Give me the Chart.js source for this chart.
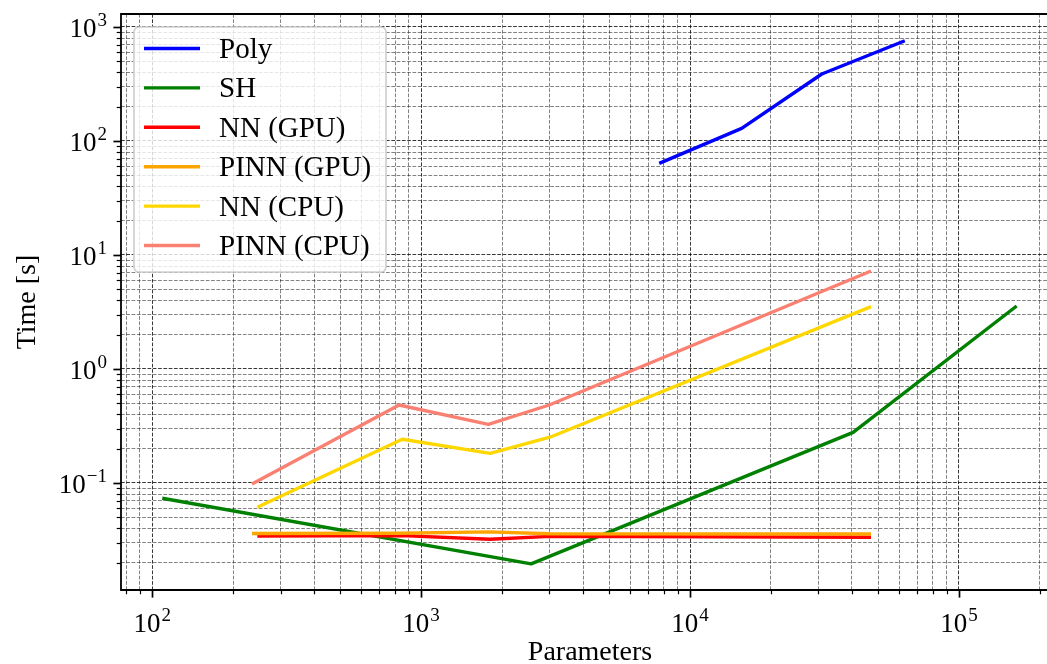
<!DOCTYPE html>
<html>
<head>
<meta charset="utf-8">
<script src="https://cdn.jsdelivr.net/npm/chart.js@4/dist/chart.umd.min.js"></script>
<style>
  html, body { margin: 0; padding: 0; background: #fff; overflow: hidden; width: 1047px; height: 664px; }
  #wrap { position: absolute; left: 0; top: 0; width: 1062px; height: 664px; }
</style>
</head>
<body>
<div id="wrap"><canvas id="c" width="1062" height="664"></canvas></div>
<script>
// Series labels and colours
const seriesNames = ['Poly', 'SH', 'NN (GPU)', 'PINN (GPU)', 'NN (CPU)', 'PINN (CPU)'];
const seriesColors = ['#0000ff', '#008000', '#ff0000', '#ffa500', '#ffd700', '#fa8072'];

// Parameter counts (x) per method
const polyParams = [7680, 15560, 30900, 62900];
const shParams = [109, 2565, 40400, 163900];
const nnParams = [246, 851, 1805, 3014, 47100];
const pinnParams = [235, 828, 1778, 2997, 47100];

// Run times in seconds (y)
const polyTime = [63.7, 129, 387, 758];
const shTime = [0.0734, 0.0195, 0.278, 3.57];
const nnGpuTime = [0.0343, 0.0345, 0.0321, 0.0340, 0.0334];
const pinnGpuTime = [0.0360, 0.0362, 0.0372, 0.0358, 0.0357];
const nnCpuTime = [0.0612, 0.242, 0.182, 0.252, 3.52];
const pinnCpuTime = [0.098, 0.483, 0.327, 0.483, 7.24];

// Decade tick labels (exponents of 10)
const xTickExponents = [2, 3, 4, 5];
const yTickExponents = [-1, 0, 1, 2, 3];

const xLabel = 'Parameters';
const yLabel = 'Time [s]';

const seriesX = [polyParams, shParams, nnParams, pinnParams, nnParams, pinnParams];
const seriesY = [polyTime, shTime, nnGpuTime, pinnGpuTime, nnCpuTime, pinnCpuTime];

const LINE_W = 3.4;

const datasets = seriesNames.map((name, i) => ({
  label: name,
  data: seriesX[i].map((v, j) => ({ x: v, y: seriesY[i][j] })),
  borderColor: seriesColors[i],
  backgroundColor: seriesColors[i],
  borderWidth: LINE_W,
  borderCapStyle: 'butt',
  borderJoinStyle: 'round',
  pointRadius: 0,
  fill: false,
  tension: 0,
  order: seriesNames.length - i   // later series drawn on top
}));

// Axis ranges (log10 limits)
const xLogMin = 1.884, xLogMax = 5.372;
const yLogMin = -1.939, yLogMax = 3.114;

function logTicks(lo, hi) {
  const out = [];
  for (let e = Math.floor(lo); e <= Math.ceil(hi); e++) {
    for (let m = 1; m <= 9; m++) {
      const v = m * Math.pow(10, e);
      const lv = Math.log10(v);
      if (lv >= lo - 1e-9 && lv <= hi + 1e-9) out.push({ value: v, major: m === 1 });
    }
  }
  return out;
}

const SERIF = '"Liberation Serif", "DejaVu Serif", serif';
const gridMajor = 'rgba(0,0,0,0.78)';
const gridMinor = 'rgba(0,0,0,0.62)';

function gridOpts() {
  return {
    display: true,
    drawTicks: false,
    color: c => (c.tick && c.tick.major ? gridMajor : gridMinor),
    lineWidth: c => (c.tick && c.tick.major ? 1.0 : 0.8)
  };
}

const superDigits = e => (e < 0 ? '\u2212' + Math.abs(e) : String(e));

// Spines, tick marks, tick labels, axis titles
const axisDecor = {
  id: 'axisDecor',
  afterDatasetsDraw(chart) {
    const { ctx, chartArea: a, scales: { x, y } } = chart;
    ctx.save();
    ctx.strokeStyle = '#000';
    ctx.lineCap = 'butt';

    // tick marks
    x.ticks.forEach(t => {
      const px = Math.round(x.getPixelForValue(t.value)) + 0.5;
      ctx.lineWidth = t.major ? 1.7 : 1.2;
      ctx.beginPath();
      ctx.moveTo(px, a.bottom);
      ctx.lineTo(px, a.bottom + (t.major ? 7.6 : 4.3));
      ctx.stroke();
    });
    y.ticks.forEach(t => {
      const py = Math.round(y.getPixelForValue(t.value)) + 0.5;
      ctx.lineWidth = t.major ? 1.7 : 1.2;
      ctx.beginPath();
      ctx.moveTo(a.left, py);
      ctx.lineTo(a.left - (t.major ? 7.6 : 4.3), py);
      ctx.stroke();
    });

    // spines
    ctx.lineWidth = 1.8;
    ctx.beginPath();
    ctx.moveTo(a.left, a.top);
    ctx.lineTo(a.right, a.top);
    ctx.lineTo(a.right, a.bottom);
    ctx.lineTo(a.left, a.bottom);
    ctx.closePath();
    ctx.stroke();

    // tick labels: 10 with raised exponent
    ctx.fillStyle = '#000';
    ctx.textBaseline = 'alphabetic';
    const baseFont = '27px ' + SERIF;
    const supFont = '19px ' + SERIF;
    function measure(e) {
      ctx.font = baseFont;
      const w1 = ctx.measureText('10').width;
      ctx.font = supFont;
      const w2 = ctx.measureText(superDigits(e)).width;
      return [w1, w2];
    }
    function drawPow(e, left, baseline) {
      const [w1] = measure(e);
      ctx.font = baseFont;
      ctx.textAlign = 'left';
      ctx.fillText('10', left, baseline);
      ctx.font = supFont;
      ctx.fillText(superDigits(e), left + w1 + 1, baseline - 11);
    }
    xTickExponents.forEach(e => {
      const px = x.getPixelForValue(Math.pow(10, e));
      const [w1, w2] = measure(e);
      drawPow(e, px - (w1 + w2 + 1) / 2, 632);
    });
    yTickExponents.forEach(e => {
      const py = y.getPixelForValue(Math.pow(10, e));
      const [w1, w2] = measure(e);
      drawPow(e, 107 - (w1 + w2 + 1), py + 10);
    });

    // axis titles
    ctx.font = '28px ' + SERIF;
    ctx.textAlign = 'center';
    ctx.fillText(xLabel, (a.left + a.right) / 2, 660);
    ctx.save();
    ctx.translate(35, (a.top + a.bottom) / 2);
    ctx.rotate(-Math.PI / 2);
    ctx.fillText(yLabel, 0, 0);
    ctx.restore();
    ctx.restore();
  }
};

// Framed legend in the upper-left corner of the plot
const legendBox = {
  id: 'legendBox',
  afterDraw(chart) {
    const { ctx } = chart;
    const bx = 134, by = 27, bw = 252, bh = 245, r = 5;
    ctx.save();
    ctx.beginPath();
    ctx.moveTo(bx + r, by);
    ctx.arcTo(bx + bw, by, bx + bw, by + bh, r);
    ctx.arcTo(bx + bw, by + bh, bx, by + bh, r);
    ctx.arcTo(bx, by + bh, bx, by, r);
    ctx.arcTo(bx, by, bx + bw, by, r);
    ctx.closePath();
    ctx.fillStyle = 'rgba(255,255,255,0.8)';
    ctx.fill();
    ctx.strokeStyle = '#d0d0d0';
    ctx.lineWidth = 1.7;
    ctx.stroke();

    ctx.font = '29px ' + SERIF;
    ctx.textAlign = 'left';
    ctx.textBaseline = 'alphabetic';
    chart.data.datasets.forEach((ds, i) => {
      const ly = 48.5 + i * 39.4;
      ctx.strokeStyle = ds.borderColor;
      ctx.lineWidth = LINE_W;
      ctx.beginPath();
      ctx.moveTo(144, ly);
      ctx.lineTo(200, ly);
      ctx.stroke();
      ctx.fillStyle = '#000';
      ctx.fillText(ds.label, 219, ly + 9.5);
    });
    ctx.restore();
  }
};

new Chart(document.getElementById('c'), {
  type: 'line',
  data: { datasets },
  options: {
    responsive: false,
    animation: false,
    devicePixelRatio: 1,
    layout: { padding: { left: 121, top: 14, right: 3, bottom: 74 } },
    plugins: { legend: { display: false }, tooltip: { enabled: false } },
    scales: {
      x: {
        type: 'logarithmic',
        bounds: 'data',
        min: Math.pow(10, xLogMin),
        max: Math.pow(10, xLogMax),
        ticks: { display: false },
        grid: gridOpts(),
        border: { display: false, dash: [3.7, 1.6] },
        afterBuildTicks: s => { s.ticks = logTicks(xLogMin, xLogMax); },
        afterFit: s => { s.height = 0; }
      },
      y: {
        type: 'logarithmic',
        bounds: 'data',
        min: Math.pow(10, yLogMin),
        max: Math.pow(10, yLogMax),
        ticks: { display: false },
        grid: gridOpts(),
        border: { display: false, dash: [3.7, 1.6] },
        afterBuildTicks: s => { s.ticks = logTicks(yLogMin, yLogMax); },
        afterFit: s => { s.width = 0; }
      }
    }
  },
  plugins: [axisDecor, legendBox]
});
</script>
</body>
</html>
